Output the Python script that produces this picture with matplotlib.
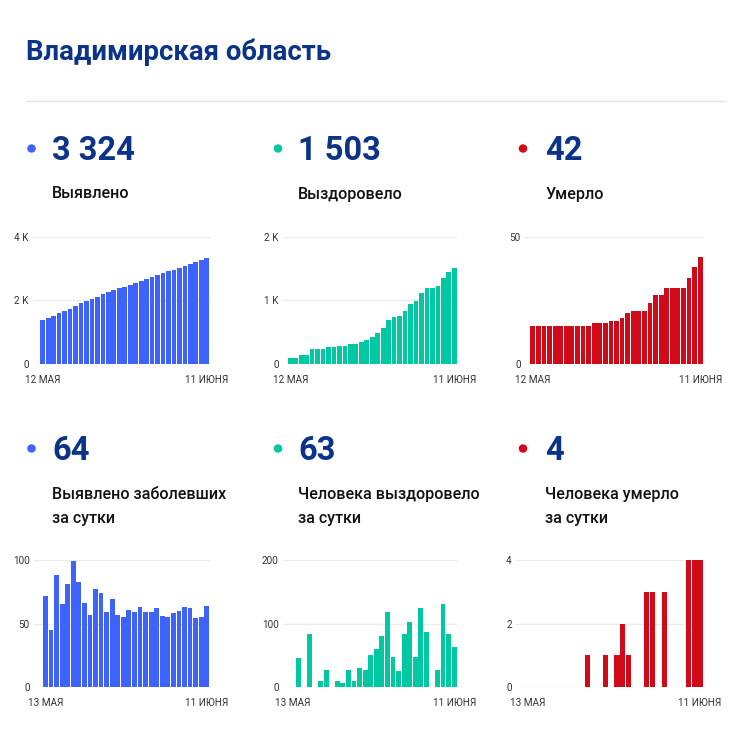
import matplotlib
matplotlib.use("Agg")
import matplotlib.pyplot as plt
from matplotlib.patches import Circle

# ---------------- data ----------------
title = "Владимирская область"

cum_cases = [1387, 1459, 1504, 1592, 1657, 1738, 1837, 1920, 1986, 2043, 2120,
             2194, 2253, 2322, 2379, 2434, 2495, 2554, 2617, 2676, 2735, 2797,
             2853, 2908, 2966, 3026, 3089, 3151, 3205, 3260, 3324]
cum_recovered = [100, 100, 146, 146, 229, 229, 239, 265, 265, 275, 282, 309,
                 318, 348, 374, 425, 485, 566, 684, 731, 756, 839, 941, 988,
                 1112, 1198, 1198, 1225, 1356, 1440, 1503]
cum_deaths = [15, 15, 15, 15, 15, 15, 15, 15, 15, 15, 15, 16, 16, 16, 17, 17,
              18, 20, 21, 21, 21, 24, 27, 27, 30, 30, 30, 30, 34, 38, 42]

daily_cases = [72, 45, 88, 65, 81, 99, 83, 66, 57, 77, 74, 59, 69, 57, 55, 61,
               59, 63, 59, 59, 62, 56, 55, 58, 60, 63, 62, 54, 55, 64]
daily_recovered = [0, 46, 0, 83, 0, 10, 26, 0, 10, 7, 27, 9, 30, 26, 51, 60,
                   81, 118, 47, 25, 83, 102, 47, 124, 86, 0, 27, 131, 84, 63]
daily_deaths = [0, 0, 0, 0, 0, 0, 0, 0, 0, 0, 1, 0, 0, 1, 0, 1, 2, 1, 0, 0,
                3, 3, 0, 3, 0, 0, 0, 4, 4, 4]

big_numbers = ["3 324", "1 503", "42", "64", "63", "4"]
labels = ["Выявлено", "Выздоровело", "Умерло",
          "Выявлено заболевших\nза сутки", "Человека выздоровело\nза сутки",
          "Человека умерло\nза сутки"]
cum_xlabels = ["12 МАЯ", "11 ИЮНЯ"]
daily_xlabels = ["13 МАЯ", "11 ИЮНЯ"]

yt_cases_cum = [0, 2000, 4000]
yl_cases_cum = ["0", "2 K", "4 K"]
yt_rec_cum = [0, 1000, 2000]
yl_rec_cum = ["0", "1 K", "2 K"]
yt_death_cum = [0, 50]
yl_death_cum = ["0", "50"]
yt_cases_d = [0, 50, 100]
yt_rec_d = [0, 100, 200]
yt_death_d = [0, 2, 4]

# ---------------- style ----------------
W, H = 749, 729
NAVY = "#0b3388"
BLUE = "#3d63fc"
TEAL = "#00c8a0"
RED = "#d00a18"
GRID = "#ebebeb"
TICK = "#333333"

plt.rcParams["font.family"] = ["Roboto", "DejaVu Sans"]

fig = plt.figure(figsize=(W / 100, H / 100), dpi=100)
fig.patch.set_facecolor("white")


def fx(x):
    return x / W


def fy(y):
    return 1 - y / H


# title & divider
fig.text(fx(26), fy(60), title, fontsize=19.8, fontweight="bold",
         color=NAVY, va="baseline", ha="left")
fig.add_artist(plt.Line2D([fx(26), fx(726)], [fy(101), fy(101)],
                          color="#e3e3e3", lw=1.0))

colors = [BLUE, TEAL, RED, BLUE, TEAL, RED]
col_dot_x = [31.5, 278, 523]
col_text_x = [52, 298, 545]

for i in range(6):
    c = i % 3
    row = i // 3
    num_base = 160 if row == 0 else 460
    lab_base = 198.5 if row == 0 else 499
    fig.text(fx(col_text_x[c]), fy(num_base), big_numbers[i], fontsize=23.5,
             fontweight="bold", color=NAVY, va="baseline", ha="left")
    lines = labels[i].split("\n")
    for k, ln in enumerate(lines):
        fig.text(fx(col_text_x[c]), fy(lab_base + 23.5 * k), ln, fontsize=11.6,
                 fontweight="medium", color="#111111", va="baseline", ha="left")
    dot_y = 148.5 if row == 0 else 448.5
    fig.add_artist(Circle((fx(col_dot_x[c]), fy(dot_y)), radius=4.3 / W,
                          transform=fig.transFigure, color=colors[i],
                          ec="none"))

# chart panels: (data, ticks, ticklabels, xlabels, color, grid_left, bar_left, bar_right, top, base)
panels = [
    (cum_cases, yt_cases_cum, yl_cases_cum, cum_xlabels, BLUE, 33, 40, 209.5, 236.7, 364),
    (cum_recovered, yt_rec_cum, yl_rec_cum, cum_xlabels, TEAL, 283, 287.5, 457, 236.7, 364),
    (cum_deaths, yt_death_cum, yl_death_cum, cum_xlabels, RED, 525, 530, 703, 237, 364),
    (daily_cases, yt_cases_d, [str(v) for v in yt_cases_d], daily_xlabels, BLUE, 34, 42.7, 209.5, 560, 687),
    (daily_recovered, yt_rec_d, [str(v) for v in yt_rec_d], daily_xlabels, TEAL, 283, 290, 457, 560, 687),
    (daily_deaths, yt_death_d, [str(v) for v in yt_death_d], daily_xlabels, RED, 516, 525, 703, 560, 687),
]

for data, yt, yl, xl, col, gl, bl, br, top, base in panels:
    n = len(data)
    spacing = (br - bl) / n
    left_pad = (bl - gl) / spacing
    ax = fig.add_axes([fx(gl), fy(base), fx(br - gl), (base - top) / H])
    ax.bar(range(n), data, width=0.86, color=col, zorder=3)
    ax.set_xlim(-0.5 - left_pad, n - 0.5)
    ax.set_ylim(0, yt[-1])
    for v in yt:
        ax.axhline(v, color=GRID, lw=1.0, zorder=1)
    for s in ax.spines.values():
        s.set_visible(False)
    ax.set_yticks(yt)
    ax.set_yticklabels(yl)
    ax.set_xticks([0, n - 1])
    ax.set_xticklabels(xl)
    ax.tick_params(axis="y", length=0, pad=3, labelsize=7.2, labelcolor=TICK)
    ax.tick_params(axis="x", length=0, pad=8, labelsize=7.2, labelcolor=TICK)
    ax.set_facecolor("none")

fig.savefig("out.png", dpi=100, facecolor="white")
